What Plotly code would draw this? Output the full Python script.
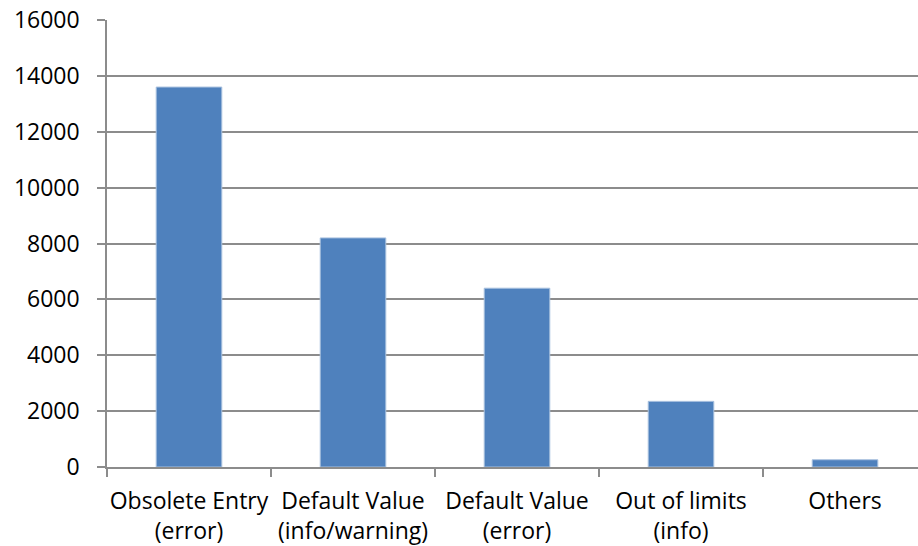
import plotly.graph_objects as go

categories = ["Obsolete Entry<br>(error)", "Default Value<br>(info/warning)", "Default Value<br>(error)",
              "Out of limits<br>(info)", "Others"]
values = [13600, 8200, 6400, 2350, 260]
y_ticks = [0, 2000, 4000, 6000, 8000, 10000, 12000, 14000, 16000]

fig = go.Figure(go.Bar(
    x=categories, y=values,
    marker=dict(color="#4f81bd", line=dict(color="#a9c1df", width=1)),
    width=0.4,
))

font = dict(family="Open Sans, sans-serif", size=23, color="#000000")

fig.update_layout(
    width=918, height=546,
    margin=dict(l=107, r=0, t=20, b=79),
    plot_bgcolor="white", paper_bgcolor="white",
    showlegend=False,
    font=font,
    bargap=0.6,
)
fig.update_xaxes(
    type="category", range=[-0.5, 4.445], automargin=False,
    showline=True, linecolor="#8c8c8c", linewidth=1.5,
    ticks="outside", tickson="boundaries", ticklen=8, tickcolor="#8c8c8c", tickwidth=1.5,
    showgrid=False, tickfont=font, ticklabelstandoff=13, tickangle=0,
    ticklabeloverflow="allow",
)
fig.update_yaxes(
    range=[0, 16000], tickvals=y_ticks, ticktext=[str(v) for v in y_ticks], automargin=False,
    showline=True, linecolor="#8c8c8c", linewidth=1.5,
    ticks="outside", ticklen=8, tickcolor="#8c8c8c", tickwidth=1.5,
    showgrid=True, gridcolor="#8c8c8c", gridwidth=1.5,
    zeroline=False, tickfont=font, ticklabelstandoff=13,
    ticklabeloverflow="allow",
)

fig.write_html("out.html", config={"displayModeBar": False},
               post_script="document.body.style.margin='0';")
